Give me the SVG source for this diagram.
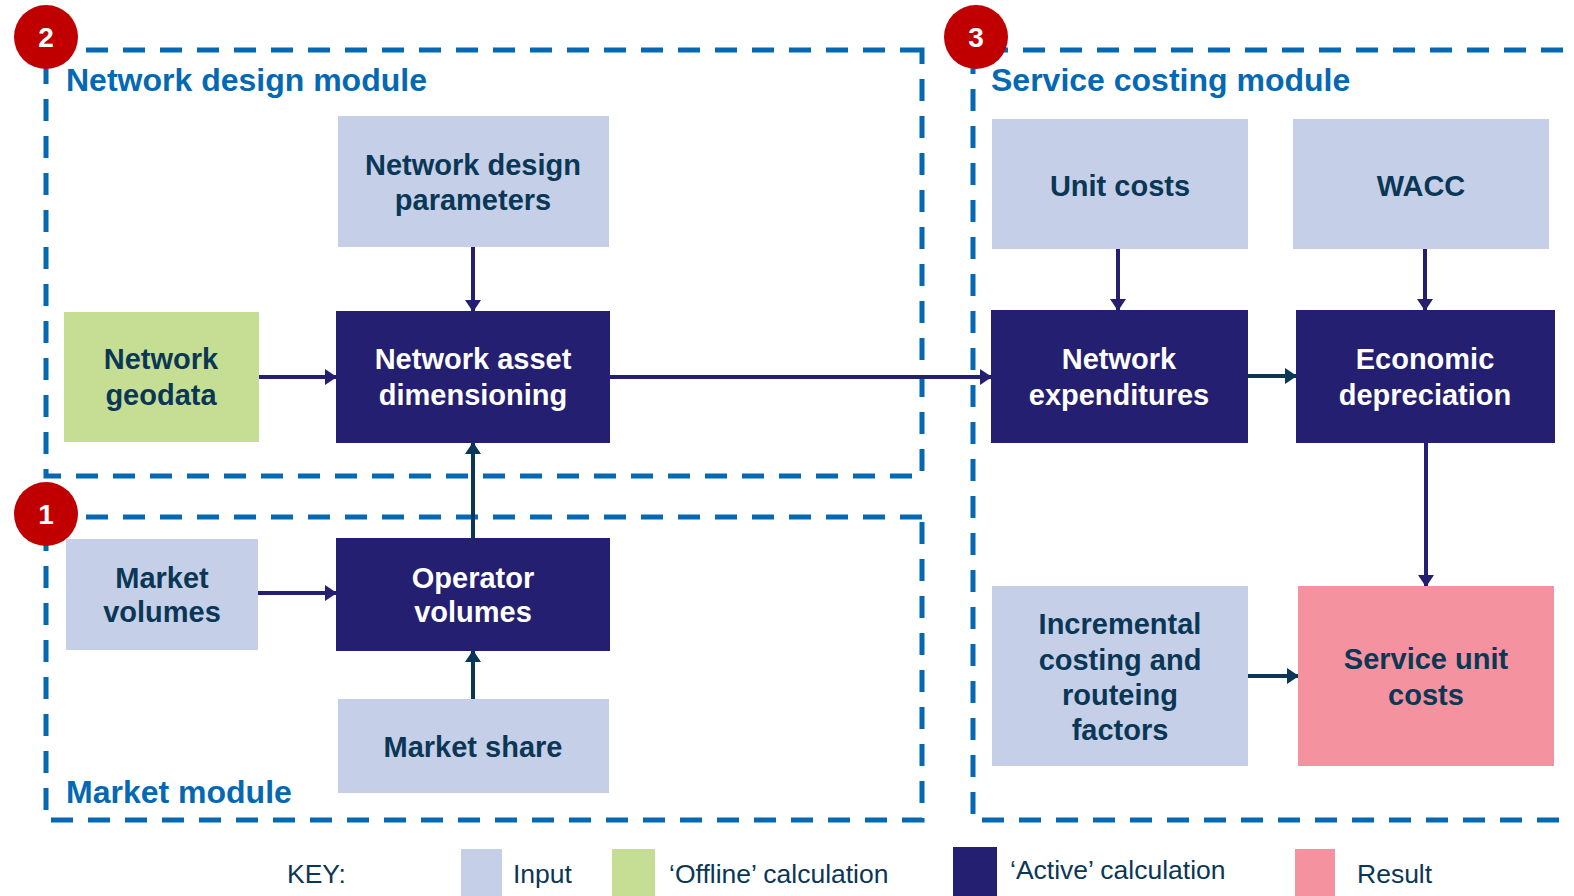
<svg xmlns="http://www.w3.org/2000/svg" width="1574" height="896" viewBox="0 0 1574 896">
<style>
.bg{fill:#ffffff}
.dash{stroke:#0568B3;stroke-width:5;stroke-dasharray:22 15;fill:none}
.title{font-family:"Liberation Sans",Arial,sans-serif;font-weight:bold;font-size:32px;fill:#0568B3}
.badge{fill:#C00000}
.bnum{font-family:"Liberation Sans",Arial,sans-serif;font-weight:bold;font-size:28px;fill:#ffffff;text-anchor:middle}
.input{fill:#C5D0E8}
.offline{fill:#C6DE93}
.active{fill:#241F70}
.result{fill:#F4929F}
.lbl{font-family:"Liberation Sans",Arial,sans-serif;font-weight:bold;font-size:29px;text-anchor:middle;fill:#0B3756}
.lbl.w{fill:#ffffff}
.key{font-family:"Liberation Sans",Arial,sans-serif;font-size:26.5px;fill:#0B3756}
.c1{stroke:#241F70;stroke-width:4;fill:none}
.c2{stroke:#0B3756;stroke-width:4;fill:none}
</style>
<defs>
<marker id="a1" markerUnits="userSpaceOnUse" markerWidth="12" markerHeight="16" refX="11" refY="8" orient="auto">
<path d="M0,0 L12,8 L0,16 z" fill="#241F70"/>
</marker>
<marker id="a2" markerUnits="userSpaceOnUse" markerWidth="12" markerHeight="16" refX="11" refY="8" orient="auto">
<path d="M0,0 L12,8 L0,16 z" fill="#0B3756"/>
</marker>
</defs>
<rect class="bg" x="0" y="0" width="1574" height="896"/>

<g id="modules">
<path class="dash" d="M922,50 L46,50 L46,476 L922,476 Z"/>
<path class="dash" d="M922,517 L46,517 L46,820 L922,820 Z"/>
<path class="dash" d="M1600,50 L973,50 L973,820 L1600,820"/>
<text class="title" x="66" y="91">Network design module</text>
<text class="title" x="991" y="91">Service costing module</text>
<text class="title" x="66" y="803">Market module</text>
</g>

<g id="connectors">
<line class="c1" x1="473" y1="247" x2="473" y2="311" marker-end="url(#a1)"/>
<line class="c1" x1="259" y1="377" x2="336" y2="377" marker-end="url(#a1)"/>
<line class="c1" x1="610" y1="377" x2="991" y2="377" marker-end="url(#a1)"/>
<line class="c2" x1="473" y1="538" x2="473" y2="443" marker-end="url(#a2)"/>
<line class="c1" x1="258" y1="593" x2="336" y2="593" marker-end="url(#a1)"/>
<line class="c2" x1="473" y1="699" x2="473" y2="651" marker-end="url(#a2)"/>
<line class="c1" x1="1118" y1="249" x2="1118" y2="310" marker-end="url(#a1)"/>
<line class="c1" x1="1425" y1="249" x2="1425" y2="310" marker-end="url(#a1)"/>
<line class="c2" x1="1248" y1="376" x2="1296" y2="376" marker-end="url(#a2)"/>
<line class="c1" x1="1426" y1="443" x2="1426" y2="586" marker-end="url(#a1)"/>
<line class="c2" x1="1248" y1="676" x2="1298" y2="676" stroke-width="5" marker-end="url(#a2)"/>
</g>

<g id="ndp">
<rect class="input" x="338" y="116" width="271" height="131"/>
<text class="lbl" x="473" y="175">Network design</text>
<text class="lbl" x="473" y="210">parameters</text>
</g>
<g id="geodata">
<rect class="offline" x="64" y="312" width="195" height="130"/>
<text class="lbl" x="161" y="369">Network</text>
<text class="lbl" x="161" y="405">geodata</text>
</g>
<g id="nad">
<rect class="active" x="336" y="311" width="274" height="132"/>
<text class="lbl w" x="473" y="369">Network asset</text>
<text class="lbl w" x="473" y="405">dimensioning</text>
</g>
<g id="marketvolumes">
<rect class="input" x="66" y="539" width="192" height="111"/>
<text class="lbl" x="162" y="588">Market</text>
<text class="lbl" x="162" y="622">volumes</text>
</g>
<g id="operatorvolumes">
<rect class="active" x="336" y="538" width="274" height="113"/>
<text class="lbl w" x="473" y="588">Operator</text>
<text class="lbl w" x="473" y="622">volumes</text>
</g>
<g id="marketshare">
<rect class="input" x="338" y="699" width="271" height="94"/>
<text class="lbl" x="473" y="757">Market share</text>
</g>
<g id="unitcosts">
<rect class="input" x="992" y="119" width="256" height="130"/>
<text class="lbl" x="1120" y="196">Unit costs</text>
</g>
<g id="wacc">
<rect class="input" x="1293" y="119" width="256" height="130"/>
<text class="lbl" x="1421" y="196">WACC</text>
</g>
<g id="netexp">
<rect class="active" x="991" y="310" width="257" height="133"/>
<text class="lbl w" x="1119" y="369">Network</text>
<text class="lbl w" x="1119" y="405">expenditures</text>
</g>
<g id="econdep">
<rect class="active" x="1296" y="310" width="259" height="133"/>
<text class="lbl w" x="1425" y="369">Economic</text>
<text class="lbl w" x="1425" y="405">depreciation</text>
</g>
<g id="incremental">
<rect class="input" x="992" y="586" width="256" height="180"/>
<text class="lbl" x="1120" y="634">Incremental</text>
<text class="lbl" x="1120" y="670">costing and</text>
<text class="lbl" x="1120" y="705">routeing</text>
<text class="lbl" x="1120" y="740">factors</text>
</g>
<g id="serviceunit">
<rect class="result" x="1298" y="586" width="256" height="180"/>
<text class="lbl" x="1426" y="669">Service unit</text>
<text class="lbl" x="1426" y="705">costs</text>
</g>

<g id="badges">
<circle class="badge" cx="46" cy="37" r="32"/>
<text class="bnum" x="46" y="47">2</text>
<circle class="badge" cx="976" cy="37" r="32"/>
<text class="bnum" x="976" y="47">3</text>
<circle class="badge" cx="46" cy="514" r="32"/>
<text class="bnum" x="46" y="524">1</text>
</g>

<g id="legend">
<text class="key" x="287" y="883">KEY:</text>
<rect class="input" x="461" y="849" width="41" height="47"/>
<text class="key" x="513" y="883">Input</text>
<rect class="offline" x="612" y="849" width="43" height="47"/>
<text class="key" x="669" y="883">‘Offline’ calculation</text>
<rect class="active" x="953" y="847" width="44" height="49"/>
<text class="key" x="1010" y="879">‘Active’ calculation</text>
<rect class="result" x="1295" y="849" width="40" height="47"/>
<text class="key" x="1357" y="883">Result</text>
</g>
</svg>
